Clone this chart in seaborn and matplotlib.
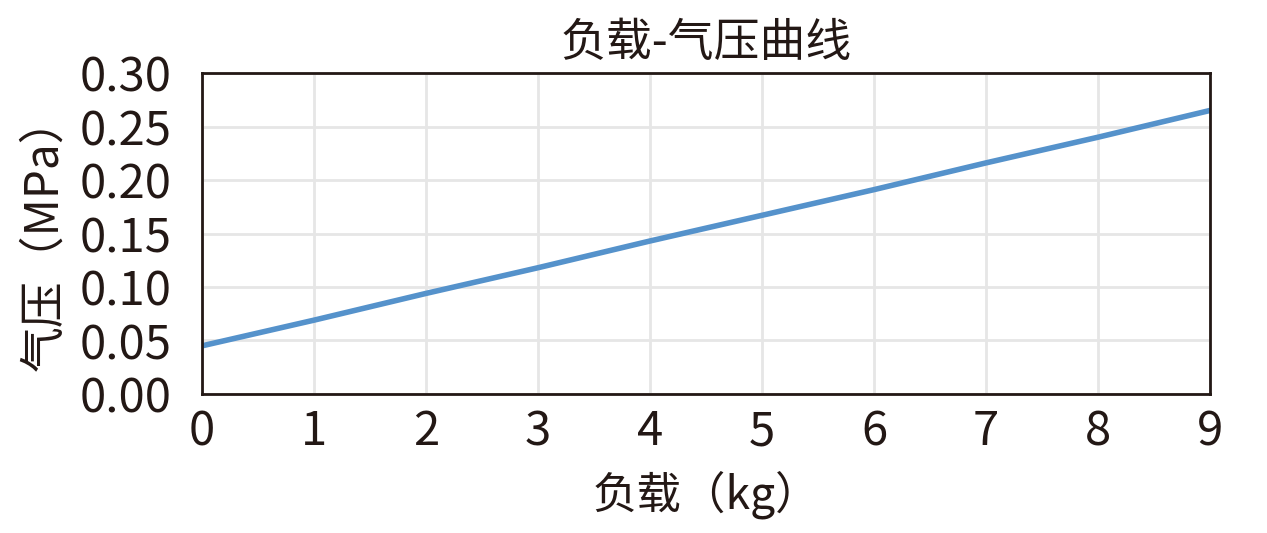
import numpy as np
import pandas as pd
import matplotlib.pyplot as plt
import seaborn as sns

# load (kg) and pressure (MPa)
load_kg = [0, 1, 2, 3, 4, 5, 6, 7, 8, 9]
pressure_mpa = [0.045, 0.069, 0.094, 0.118, 0.143, 0.167, 0.191, 0.216, 0.240, 0.265]
y_ticks = [0.00, 0.05, 0.10, 0.15, 0.20, 0.25, 0.30]

df = pd.DataFrame({"load": load_kg, "pressure": pressure_mpa})

sns.set_theme(style="whitegrid")
plt.rcParams['font.family'] = ['Noto Sans CJK SC', 'DejaVu Sans']

fig = plt.figure(figsize=(12.67, 5.33), dpi=100)
ax = fig.add_axes([0.1594, 0.2608, 0.7956, 0.6022])

sns.lineplot(data=df, x="load", y="pressure", ax=ax, color="#5592cb", linewidth=4)

ax.set_xlim(0, 9)
ax.set_ylim(0, 0.30)
ax.set_xticks(range(0, 10))
ax.set_yticks(y_ticks)
ax.set_yticklabels([f"{v:.2f}" for v in y_ticks])

ax.grid(True, color="#e6e6e6", linewidth=2)
for s in ax.spines.values():
    s.set_color("#231815")
    s.set_linewidth(2)
ax.tick_params(axis="both", labelsize=34, colors="#231815", length=0)
ax.tick_params(axis="x", pad=10)
ax.tick_params(axis="y", pad=22)

ax.set_title("负载-气压曲线", fontsize=33, color="#231815", pad=12)
ax.set_xlabel("负载（kg）", fontsize=32, color="#231815", labelpad=10)
ax.set_ylabel("气压（MPa）", fontsize=33, color="#231815", labelpad=8)

plt.savefig("out.png", dpi=100)
